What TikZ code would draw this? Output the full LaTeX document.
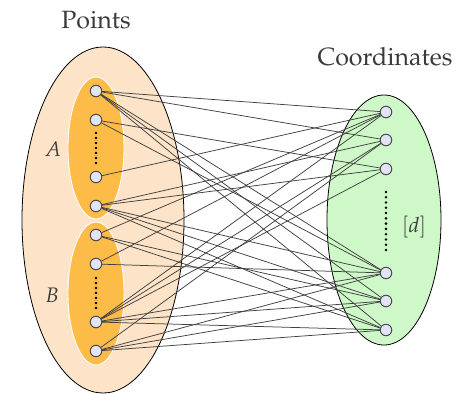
\documentclass[tikz,border=0pt]{standalone}
\usepackage[T1]{fontenc}
\usepackage{mathpazo}
\definecolor{peach}{HTML}{FDE3C8}
\definecolor{orangeA}{HTML}{FDBB48}
\definecolor{greenC}{HTML}{CFF8C9}
\definecolor{ptfill}{HTML}{E3E3F8}
\definecolor{txt}{HTML}{3A3A3A}
\tikzset{
  pt/.style={circle,draw=black!70,fill=ptfill,line width=1pt,minimum size=11.5pt,inner sep=0pt},
  edge/.style={draw=black!75,line width=0.75pt},
  vdot/.style={circle,fill=black,inner sep=0pt,minimum size=2.8pt},
  title/.style={text=txt,font=\fontsize{25}{30}\selectfont},
  lab/.style={text=txt,font=\fontsize{21}{25}\selectfont}
}
\begin{document}
\begin{tikzpicture}[x=1pt,y=-1pt]
\useasboundingbox (0,0) rectangle (456,394);
% regions
\draw[fill=peach,draw=black,line width=0.8pt] (103,220) ellipse [x radius=81pt,y radius=173pt];
\draw[fill=orangeA,draw=white,line width=0.9pt] (96,148) ellipse [x radius=28pt,y radius=71pt];
\draw[fill=orangeA,draw=white,line width=0.9pt] (96,293.5) ellipse [x radius=28pt,y radius=71.5pt];
\draw[fill=greenC,draw=black,line width=0.8pt] (384,220) ellipse [x radius=57pt,y radius=125pt];
% titles and labels
\node[title] (tp) at (96,20) {Points};
\node[title] (tc) at (385,57) {Coordinates};
\node[lab] (la) at (53,149) {$A$};
\node[lab] (lb) at (52,295) {$B$};
\node[lab] (ld) at (414,227) {$[d]$};
% left points
\foreach \n/\y in {1/91,2/120,3/177,4/206,5/235,6/264,7/322,8/351}
  \node[pt] (L\n) at (96,\y) {};
% right points
\foreach \n/\y in {1/112,2/140,3/169,4/273,5/301,6/330}
  \node[pt] (R\n) at (386,\y) {};
% vertical dots
\foreach \i in {0,...,6} {
  \node[vdot] (da\i) at (96,{133+5*\i}) {};
  \node[vdot] (db\i) at (96,{278+5*\i}) {};
}
\foreach \i in {0,...,11}
  \node[vdot] (dc\i) at (386,{192+5.27*\i}) {};
% edges
\foreach \a/\b in {1/1,1/2,1/4,1/5,1/6,
                   2/3,2/4,
                   3/1,
                   4/2,4/3,4/4,4/5,4/6,
                   5/1,5/5,5/6,
                   6/1,6/4,
                   7/1,7/2,7/3,7/4,7/5,7/6,
                   8/2,8/4,8/5,8/6}
  \draw[edge] (L\a) -- (R\b);
\end{tikzpicture}
\end{document}
